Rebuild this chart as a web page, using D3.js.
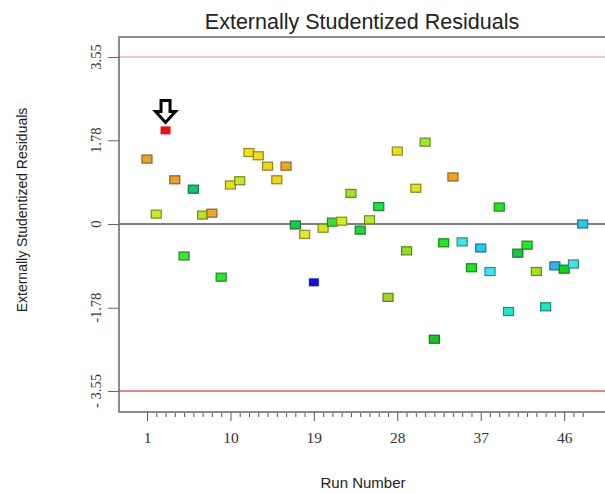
<!DOCTYPE html>
<html>
<head>
<meta charset="utf-8">
<script src="https://cdn.jsdelivr.net/npm/d3@7"></script>
<style>
  html, body { margin: 0; padding: 0; background: #fff; }
  svg { display: block; }
</style>
</head>
<body>
<svg id="chart" width="605" height="493"></svg>
<script>
// ---- data ----
const runs = d3.range(1, 49);
const residuals = [
  1.38, 0.21, 1.99, 0.94, -0.68, 0.74, 0.19, 0.23, -1.13, 0.83,
  0.92, 1.52, 1.45, 1.23, 0.94, 1.23, -0.02, -0.22, -1.24, -0.09,
  0.04, 0.06, 0.65, -0.13, 0.09, 0.37, -1.56, 1.55, -0.57, 0.76,
  1.74, -2.45, -0.40, 1.00, -0.38, -0.93, -0.51, -1.01, 0.36, -1.86,
  -0.62, -0.45, -1.01, -1.76, -0.89, -0.96, -0.85, 0.00
];
const pointColors = [
  "#eba232", "#c6ec2a", "#e01414", "#e8a032", "#3ee03a", "#12c474", "#b2e626", "#e8a834", "#34e034", "#e6e024",
  "#c4e632", "#f0e024", "#f0da24", "#f0d424", "#f0d422", "#f0a628", "#20c454", "#e6e634", "#1414cc", "#d2e828",
  "#36e03e", "#d0ee26", "#a2e034", "#22d444", "#b6ea30", "#22e046", "#a4d426", "#e8e226", "#90e024", "#e2e024",
  "#a4e234", "#22c226", "#24e42a", "#f0a224", "#44e2e2", "#22e226", "#24c8f0", "#44e2f2", "#24e22a", "#26e8d2",
  "#22c244", "#26e426", "#a4e024", "#24e2c2", "#34b4f0", "#14d024", "#44e2e2", "#34c2ea"
];
const xTickValues = [1, 10, 19, 28, 37, 46];
const yTickValues = [3.55, 1.78, 0, -1.78, -3.55];
const yTickLabels = ["3.55", "1.78", "0", "-1.78", "- 3.55"];
const limitValues = [3.55, -3.55];
const flaggedRun = 3;

// ---- layout ----
const svg = d3.select("#chart");
const plotLeft = 119, plotTop = 37, plotBottom = 412, plotRight = 605;

const x = d3.scaleLinear().domain([1, 48]).range([147, 582.7]);
const y = d3.scaleLinear().domain([-3.55, 3.55]).range([391, 57]);

// title
svg.append("text")
  .attr("x", 362).attr("y", 29)
  .attr("text-anchor", "middle")
  .attr("font-family", "Liberation Sans, Arial, sans-serif")
  .attr("font-size", 21.5)
  .attr("fill", "#222")
  .text("Externally Studentized Residuals");

// limit lines
svg.append("line")
  .attr("x1", plotLeft).attr("x2", plotRight)
  .attr("y1", y(limitValues[0])).attr("y2", y(limitValues[0]))
  .attr("stroke", "#f4b4bd").attr("stroke-width", 1.5);
svg.append("line")
  .attr("x1", plotLeft).attr("x2", plotRight)
  .attr("y1", y(limitValues[1])).attr("y2", y(limitValues[1]))
  .attr("stroke", "#e0585a").attr("stroke-width", 1.5);

// zero line
svg.append("line")
  .attr("x1", plotLeft).attr("x2", plotRight)
  .attr("y1", y(0)).attr("y2", y(0))
  .attr("stroke", "#555").attr("stroke-width", 1.5);

// frame
svg.append("path")
  .attr("d", `M${plotRight},${plotTop}H${plotLeft}V${plotBottom}H${plotRight}`)
  .attr("fill", "none").attr("stroke", "#666").attr("stroke-width", 1.5);

// x axis minor ticks
const xMinor = svg.append("g").attr("transform", `translate(0,${plotBottom})`)
  .call(d3.axisBottom(x).tickValues(runs.filter(r => !xTickValues.includes(r))).tickSize(4).tickFormat(""));
xMinor.select(".domain").remove();
xMinor.selectAll(".tick line").attr("stroke", "#555").attr("transform", "translate(0,1)");

// x axis major ticks
const xMajor = svg.append("g").attr("transform", `translate(0,${plotBottom})`)
  .call(d3.axisBottom(x).tickValues(xTickValues).tickSize(9).tickPadding(11));
xMajor.select(".domain").remove();
xMajor.selectAll(".tick line").attr("stroke", "#555");
xMajor.selectAll(".tick text")
  .attr("font-family", "Liberation Serif, Times New Roman, serif")
  .attr("font-size", 15.5)
  .attr("fill", "#333");

// y axis ticks
const yAx = svg.append("g").attr("transform", `translate(${plotLeft},0)`)
  .call(d3.axisLeft(y).tickValues(yTickValues).tickSize(11).tickFormat(""));
yAx.select(".domain").remove();
yAx.selectAll(".tick line").attr("stroke", "#666");

// y tick labels (rotated)
svg.append("g").selectAll("text")
  .data(yTickValues)
  .join("text")
  .attr("transform", d => `translate(101,${y(d)}) rotate(-90)`)
  .attr("text-anchor", "middle")
  .attr("font-family", "Liberation Serif, Times New Roman, serif")
  .attr("font-size", 14.5)
  .attr("fill", "#333")
  .text((d, i) => yTickLabels[i]);

// axis titles
svg.append("text")
  .attr("transform", "translate(27,210) rotate(-90)")
  .attr("text-anchor", "middle")
  .attr("font-family", "Liberation Sans, Arial, sans-serif")
  .attr("font-size", 14)
  .attr("fill", "#222")
  .text("Externally Studentized Residuals");

svg.append("text")
  .attr("x", 363).attr("y", 488)
  .attr("text-anchor", "middle")
  .attr("font-family", "Liberation Sans, Arial, sans-serif")
  .attr("font-size", 15)
  .attr("fill", "#222")
  .text("Run Number");

// points
const pts = runs.map((r, i) => ({ run: r, value: residuals[i], color: pointColors[i] }));
svg.append("g").selectAll("rect")
  .data(pts)
  .join("rect")
  .attr("x", d => x(d.run) - 5)
  .attr("y", d => y(d.value) - 4)
  .attr("width", 10)
  .attr("height", 8)
  .attr("fill", d => d.color)
  .attr("stroke", d => d.run === flaggedRun || d.run === 19 ? "none" : d3.color(d.color).darker(1.4))
  .attr("stroke-width", 1.2);

// flag arrow above highlighted run
const ax = x(flaggedRun), ay = y(residuals[flaggedRun - 1]) - 8;
svg.append("path")
  .attr("d", `M${ax},${ay} L${ax - 10},${ay - 11} L${ax - 4.5},${ay - 11} L${ax - 4.5},${ay - 22} L${ax + 4.5},${ay - 22} L${ax + 4.5},${ay - 11} L${ax + 10},${ay - 11} Z`)
  .attr("fill", "#fff").attr("stroke", "#000").attr("stroke-width", 3)
  .attr("stroke-linejoin", "miter");
</script>
</body>
</html>
